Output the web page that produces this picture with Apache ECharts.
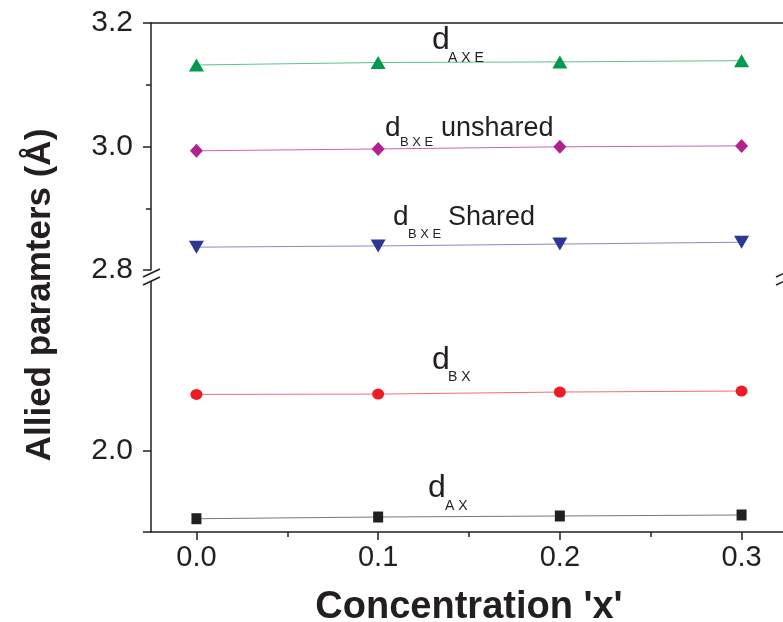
<!DOCTYPE html>
<html>
<head>
<meta charset="utf-8">
<script src="https://cdn.jsdelivr.net/npm/echarts@6/dist/echarts.min.js"></script>
<style>
  html, body { margin: 0; padding: 0; background: #fff; }
  #chart { width: 783px; height: 622px; }
</style>
</head>
<body>
<div id="chart"></div>
<script>
// 데이터
var conc = [0.0, 0.1, 0.2, 0.3];
var dAXE = [3.132, 3.136, 3.137, 3.139];
var dBXEunshared = [2.993, 2.996, 2.9995, 3.001];
var dBXEshared = [2.837, 2.839, 2.842, 2.845];
var dBX = [2.164, 2.165, 2.171, 2.174];
var dAX = [1.799, 1.804, 1.807, 1.810];

var xTicks = [0.0, 0.1, 0.2, 0.3];
var xMinor = [0.05, 0.15, 0.25];
var lowTicks = [1.76, 2.0];
var lowLabels = [2.0];
var lowMinor = [2.25];

var FONT = 'Liberation Sans, Arial, sans-serif';
var AXC = '#231f20';

function pairs(ys) {
  return conc.map(function (x, i) { return [x, ys[i]]; });
}

function series(name, ys, grid, symbol, size, color, lineColor, rotate) {
  return {
    name: name,
    type: 'line',
    xAxisIndex: grid === 0 ? 0 : 1,
    yAxisIndex: grid === 0 ? 0 : 1,
    data: pairs(ys),
    symbol: symbol,
    symbolSize: size,
    symbolRotate: rotate || 0,
    showAllSymbol: true,
    itemStyle: { color: color, opacity: 1 },
    lineStyle: { color: lineColor, width: 1 },
    z: 3,
    animation: false
  };
}

// 주석 텍스트 (d + 아래첨자)
function label(x, y, txt, size) {
  return {
    type: 'text',
    x: x, y: y,
    style: {
      text: txt,
      font: size + 'px ' + FONT,
      fill: '#231f20',
      textVerticalAlign: 'bottom',
      textAlign: 'left'
    },
    z: 10
  };
}

function brk(x0) {
  return [
    { type: 'polygon', shape: { points: [[x0, 277], [x0 + 17, 269], [x0 + 17, 277], [x0, 285]] },
      style: { fill: '#fff' }, z: 20 },
    { type: 'line', shape: { x1: x0, y1: 277, x2: x0 + 17, y2: 269 },
      style: { stroke: AXC, lineWidth: 1.5 }, z: 21 },
    { type: 'line', shape: { x1: x0, y1: 285, x2: x0 + 17, y2: 277 },
      style: { stroke: AXC, lineWidth: 1.5 }, z: 21 }
  ];
}

var chart = echarts.init(document.getElementById('chart'));

var lineSt = { color: AXC, width: 1.5 };

var option = {
  backgroundColor: '#fff',
  animation: false,
  grid: [
    { left: 151, right: -4, top: 23, height: 247, outerBoundsMode: 'none', containLabel: false },
    { left: 151, right: -4, top: 280, height: 252, outerBoundsMode: 'none', containLabel: false }
  ],
  xAxis: [
    {
      type: 'value', gridIndex: 0, min: -0.025, max: 0.325, position: 'top',
      axisLine: { show: true, onZero: false, lineStyle: lineSt },
      axisTick: { show: false }, axisLabel: { show: false }, splitLine: { show: false }
    },
    {
      type: 'value', gridIndex: 1, min: -0.025, max: 0.325, position: 'bottom',
      axisLine: { show: true, onZero: false, lineStyle: lineSt },
      axisTick: { show: true, customValues: xTicks, length: 8, lineStyle: lineSt },
      axisLabel: { show: true, customValues: xTicks, fontSize: 29, fontFamily: FONT,
        color: AXC, margin: 11, formatter: function (v) { return v.toFixed(1); } },
      splitLine: { show: false },
      name: "Concentration 'x'", nameLocation: 'middle', nameGap: 57,
      nameTextStyle: { fontSize: 38, fontWeight: 'bold', fontFamily: FONT, color: AXC }
    },
    {
      type: 'value', gridIndex: 1, min: -0.025, max: 0.325, position: 'bottom',
      axisLine: { show: false, onZero: false },
      axisTick: { show: true, customValues: xMinor, length: 5, lineStyle: lineSt },
      axisLabel: { show: false }, splitLine: { show: false }
    }
  ],
  yAxis: [
    {
      type: 'value', gridIndex: 0, min: 2.8, max: 3.2, interval: 0.2,
      axisLine: { show: true, onZero: false, lineStyle: lineSt },
      axisTick: { show: true, length: 8, lineStyle: lineSt },
      minorTick: { show: true, splitNumber: 2, length: 5, lineStyle: lineSt },
      axisLabel: { fontSize: 30, fontFamily: FONT, color: AXC, margin: 18,
        formatter: function (v) { return v.toFixed(1); } },
      splitLine: { show: false }
    },
    {
      type: 'value', gridIndex: 1, min: 1.76, max: 2.5,
      axisLine: { show: true, onZero: false, lineStyle: lineSt },
      axisTick: { show: true, customValues: lowTicks, length: 8, lineStyle: lineSt },
      axisLabel: { show: true, customValues: lowLabels, fontSize: 30, fontFamily: FONT, color: AXC,
        margin: 18, formatter: function (v) { return v.toFixed(1); } },
      splitLine: { show: false }
    },
    {
      type: 'value', gridIndex: 1, min: 1.76, max: 2.5,
      axisLine: { show: false, onZero: false },
      axisTick: { show: true, customValues: lowMinor, length: 5, lineStyle: lineSt },
      axisLabel: { show: false }, splitLine: { show: false }
    }
  ],
  series: [
    series('dAXE', dAXE, 0, 'triangle', [15, 13], '#009a4e', '#5cc48a'),
    series('dBXE unshared', dBXEunshared, 0, 'diamond', [13, 14], '#b3208f', '#c865b0'),
    series('dBXE Shared', dBXEshared, 0, 'triangle', [15, 13], '#2b3891', '#858bc5', 180),
    series('dBX', dBX, 1, 'circle', [12, 11], '#ed1c24', '#f26b78'),
    series('dAX', dAX, 1, 'rect', [10, 11], '#231f20', '#77787b')
  ],
  graphic: [
    {
      type: 'text', x: 40, y: 295, rotation: Math.PI / 2,
      style: { text: 'Allied paramters (Å)', font: 'bold 35px ' + FONT, fill: AXC,
        textAlign: 'center', textVerticalAlign: 'middle' }
    },
    label(432, 56, 'd', 32),
    label(448, 65, 'A X E', 14),
    label(385, 142, 'd', 28),
    label(400, 149, 'B X E', 13),
    label(441, 142, 'unshared', 27),
    label(393, 231, 'd', 28),
    label(408, 241, 'B X E', 13),
    label(448, 231, 'Shared', 27),
    label(432, 376, 'd', 32),
    label(448, 384, 'B X', 14),
    label(428, 504, 'd', 32),
    label(445, 513, 'A X', 14)
  ].concat(brk(143)).concat(brk(776))
};

chart.setOption(option);
</script>
</body>
</html>
